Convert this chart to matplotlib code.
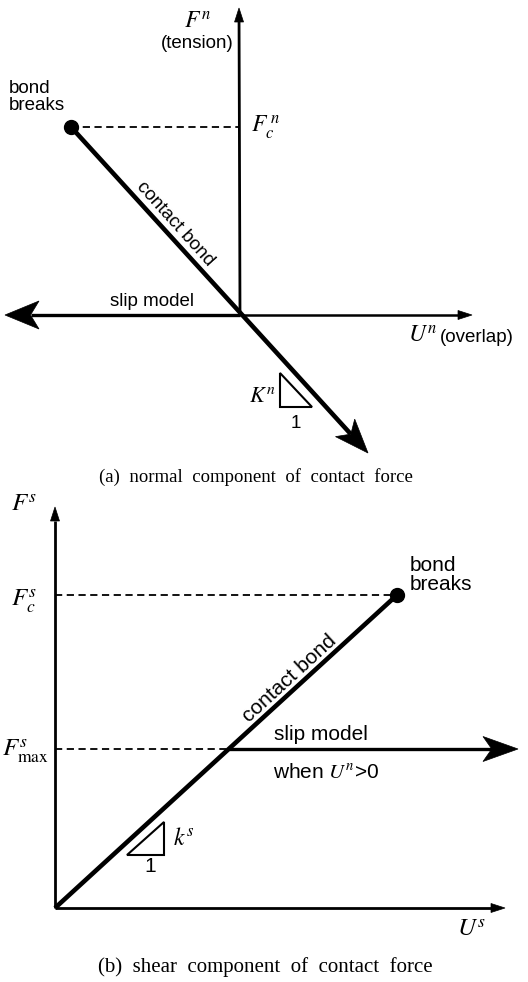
import matplotlib
matplotlib.use('Agg')
import matplotlib.pyplot as plt
import numpy as np
from matplotlib.patches import Polygon

W, H = 528, 982
plt.rcParams['mathtext.fontset'] = 'stix'
SANS = 'Liberation Sans'
SERIF = 'Liberation Serif'

# ---- panel (a): normal component (diagram key points, pixel units) ----
a_origin = [240, 315]
a_vaxis_top = [239, 8]
a_haxis_left = [5, 315]
a_haxis_right = [472, 315]
a_break = [71, 127]
a_bond_tip = [368, 453]
a_tri = [[280, 373], [280, 407], [312, 407]]

# ---- panel (b): shear component ----
b_origin = [55, 908]
b_vaxis_top = [55, 507]
b_haxis_right = [505, 908]
b_break = [397, 595]
b_fmax_y = 749
b_slip_tip_x = 518
b_tri = [[127, 855], [164, 855], [164, 822]]

captions = ['(a)  normal  component  of  contact  force',
            '(b)  shear  component  of  contact  force']

fig = plt.figure(figsize=(W / 100, H / 100), dpi=100)
ax = fig.add_axes([0, 0, 1, 1])
ax.set_xlim(0, W)
ax.set_ylim(H, 0)
ax.axis('off')


def arrow(p0, p1, lw, hl, hw, notch=0.8):
    p0 = np.array(p0, float)
    p1 = np.array(p1, float)
    d = p1 - p0
    L = np.hypot(*d)
    u = d / L
    n = np.array([-u[1], u[0]])
    base = p1 - u * hl
    end = p1 - u * hl * notch
    ax.plot([p0[0], end[0]], [p0[1], end[1]], color='k', lw=lw, solid_capstyle='butt')
    poly = [p1, base + n * hw / 2, end, base - n * hw / 2]
    ax.add_patch(Polygon(poly, closed=True, facecolor='k', edgecolor='k', lw=0.5))


def line(p0, p1, lw, **kw):
    ax.plot([p0[0], p1[0]], [p0[1], p1[1]], color='k', lw=lw, **kw)


# ===== panel (a) =====
arrow([a_origin[0], a_origin[1]], a_vaxis_top, 2.0, 14, 9, notch=1.0)
arrow(a_origin, a_haxis_left, 2.4, 34, 28, notch=0.75)
arrow(a_origin, a_haxis_right, 1.8, 14, 9, notch=1.0)
arrow(a_break, a_bond_tip, 3.3, 34, 26, notch=0.75)
line(a_break, [a_origin[0], a_break[1]], 1.3, ls=(0, (4, 2.5)))
ax.plot([a_break[0]], [a_break[1]], 'o', color='k', ms=10)
ax.add_patch(Polygon(a_tri, closed=True, fill=False, edgecolor='k', lw=1.5))

fs_a = 13.5
ax.text(197, 22, r'$F^{n}$', fontsize=17, ha='center', va='center')
ax.text(197, 43, '(tension)', fontsize=fs_a, family=SANS, ha='center', va='center')
ax.text(251, 127, r'$F_{c}^{\,n}$', fontsize=17, ha='left', va='center')
ax.text(9, 97, 'bond\nbreaks', fontsize=fs_a, family=SANS, ha='left', va='center',
        linespacing=1.05)
ang_a = np.degrees(np.arctan2(-(a_origin[1] - a_break[1]), a_origin[0] - a_break[0]))
ax.text(175, 224, 'contact bond', fontsize=fs_a, family=SANS, rotation=ang_a,
        rotation_mode='anchor', ha='center', va='center')
ax.text(152, 301, 'slip model', fontsize=fs_a, family=SANS, ha='center', va='center')
ax.text(408, 336, r'$U^{n}$', fontsize=17, ha='left', va='center')
ax.text(440, 337, '(overlap)', fontsize=fs_a, family=SANS, ha='left', va='center')
ax.text(262, 396, r'$K^{n}$', fontsize=16, ha='center', va='center')
ax.text(296, 423, '1', fontsize=fs_a, family=SANS, ha='center', va='center')
ax.text(256, 477, captions[0], fontsize=13.5, family=SERIF, ha='center', va='center')

# ===== panel (b) =====
arrow(b_origin, b_vaxis_top, 2.0, 14, 9, notch=1.0)
arrow(b_origin, b_haxis_right, 2.0, 14, 9, notch=1.0)
line(b_origin, b_break, 3.3, solid_capstyle='butt')
ax.plot([b_break[0]], [b_break[1]], 'o', color='k', ms=10)
line([b_origin[0], b_break[1]], b_break, 1.3, ls=(0, (4, 2.5)))
x_int = b_origin[0] + (b_origin[1] - b_fmax_y) * (b_break[0] - b_origin[0]) / (b_origin[1] - b_break[1])
line([b_origin[0], b_fmax_y], [x_int, b_fmax_y], 1.3, ls=(0, (4, 2.5)))
arrow([x_int, b_fmax_y], [b_slip_tip_x, b_fmax_y], 2.4, 35, 25, notch=0.75)
ax.add_patch(Polygon(b_tri, closed=True, fill=False, edgecolor='k', lw=1.5))

fs_b = 15
ax.text(24, 505, r'$F^{s}$', fontsize=18, ha='center', va='center')
ax.text(24, 601, r'$F_{c}^{s}$', fontsize=18, ha='center', va='center')
ax.text(26, 751, r'$F_{\mathrm{max}}^{s}$', fontsize=18, ha='center', va='center')
ax.text(410, 575, 'bond\nbreaks', fontsize=fs_b, family=SANS, ha='left', va='center',
        linespacing=1.0)
ang_b = np.degrees(np.arctan2(b_origin[1] - b_break[1], b_break[0] - b_origin[0]))
ax.text(289, 679, 'contact bond', fontsize=fs_b, family=SANS, rotation=ang_b,
        rotation_mode='anchor', ha='center', va='center')
ax.text(321, 735, 'slip model', fontsize=fs_b, family=SANS, ha='center', va='center')
ax.text(326, 772, r'when $U^{n}$>0', fontsize=fs_b, family=SANS, ha='center', va='center')
ax.text(184, 838, r'$k^{s}$', fontsize=17, ha='center', va='center')
ax.text(150, 867, '1', fontsize=fs_b, family=SANS, ha='center', va='center')
ax.text(472, 930, r'$U^{s}$', fontsize=18, ha='center', va='center')
ax.text(265, 967, captions[1], fontsize=15, family=SERIF, ha='center', va='center')

fig.savefig('out.png', dpi=100, facecolor='white')
